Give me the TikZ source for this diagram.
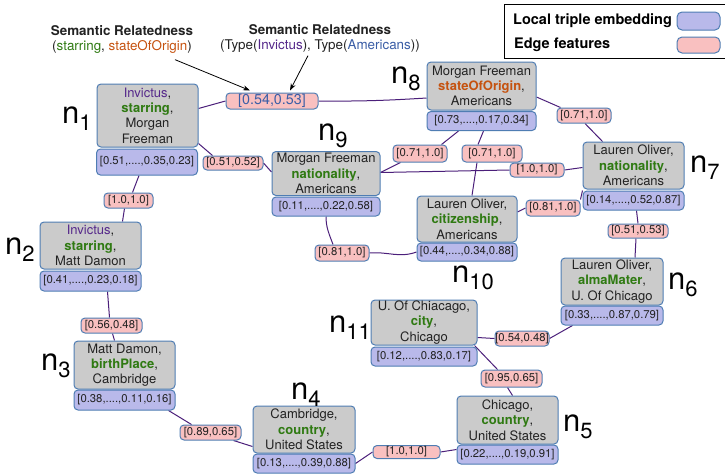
\documentclass[tikz,border=0pt]{standalone}
\usepackage{fontspec}
\setmainfont{TeX Gyre Heros}
\usetikzlibrary{arrows.meta,calc,backgrounds}

\definecolor{boxgray}{HTML}{CBCBCB}
\definecolor{boxedge}{HTML}{4F7DB3}
\definecolor{embfill}{HTML}{B9B9EA}
\definecolor{featfill}{HTML}{F9C0C0}
\definecolor{linkcol}{HTML}{4B1F7A}
\definecolor{relgreen}{HTML}{2F7A12}
\definecolor{relorange}{HTML}{C5520F}
\definecolor{entpurple}{HTML}{55288A}
\definecolor{entblue}{HTML}{3B5EA6}
\definecolor{txtdark}{HTML}{222222}

\newcommand{\rel}[1]{\textbf{\textcolor{relgreen}{#1}}}
\newcommand{\nsub}[1]{{\fontsize{31}{31}\selectfont n}\raisebox{-7pt}{\fontsize{22}{22}\selectfont #1}}

\tikzset{
  triple/.style={draw=boxedge, fill=boxgray, rounded corners=4pt, line width=1pt,
    align=center, inner sep=0pt, text=txtdark, font=\fontsize{13}{15.3}\selectfont},
  embed/.style={draw=boxedge, fill=embfill, rounded corners=4pt, line width=1pt,
    inner sep=0pt, text=txtdark, font=\fontsize{11.3}{13}\selectfont},
  feat/.style={draw=boxedge, fill=featfill, rounded corners=4pt, line width=1pt,
    inner sep=0pt, text=txtdark, font=\fontsize{11.3}{13}\selectfont},
  link/.style={draw=linkcol, line width=1pt},
  nname/.style={inner sep=0pt, anchor=base west, text=black},
  note/.style={inner sep=0pt, align=center, text=txtdark, font=\fontsize{13.4}{15}\selectfont},
  pointer/.style={draw=black, line width=0.8pt, -{Stealth[length=7pt,width=5pt]}}
}

\begin{document}
\begin{tikzpicture}[x=1pt,y=1pt]
\useasboundingbox (0,0) rectangle (725,-474);

% legend
\node[draw=black, line width=0.8pt, minimum width=221pt, minimum height=54pt, inner sep=0pt] (legend) at (614.5,-31) {};
\node[inner sep=0pt, anchor=west, font=\fontsize{14.5}{16}\selectfont\bfseries] (lgA) at (513,-21) {Local triple embedding};
\node[inner sep=0pt, anchor=west, font=\fontsize{14.5}{16}\selectfont\bfseries] (lgB) at (514,-45) {Edge features};
\node[draw=boxedge, fill=embfill, rounded corners=5pt, line width=1pt, minimum width=43pt, minimum height=18pt, inner sep=0pt] (swA) at (698.5,-21) {};
\node[draw=boxedge, fill=featfill, rounded corners=5pt, line width=1pt, minimum width=43pt, minimum height=16pt, inner sep=0pt] (swB) at (698.5,-45) {};

% triple nodes and their embeddings
\node[triple, minimum width=101pt, minimum height=63pt] (n1) at (147.5,-115.5)
  {\textcolor{entpurple}{Invictus},\\ \rel{starring},\\ Morgan\\ Freeman};
\node[embed, minimum width=101pt, minimum height=26pt] (n1v) at (147,-162) {[0.51,....,0.35,0.23]};

\node[triple, minimum width=101pt, minimum height=47pt] (n2) at (90.5,-245.5)
  {\textcolor{entpurple}{Invictus},\\ \rel{starring},\\ Matt Damon};
\node[embed, minimum width=101pt, minimum height=20pt] (n2v) at (90.5,-281) {[0.41,....,0.23,0.18]};

\node[triple, minimum width=101pt, minimum height=48pt] (n3) at (124.5,-365)
  {Matt Damon,\\ \rel{birthPlace},\\ Cambridge};
\node[embed, minimum width=101pt, minimum height=20pt] (n3v) at (124.5,-400) {[0.38,....,0.11,0.16]};

\node[triple, minimum width=102pt, minimum height=47pt] (n4) at (304,-429.5)
  {Cambridge,\\ \rel{country},\\ United States};
\node[embed, minimum width=102pt, minimum height=19pt] (n4v) at (304,-463.5) {[0.13,....,0.39,0.88]};

\node[triple, minimum width=101pt, minimum height=48pt] (n5) at (507.5,-420)
  {Chicago,\\ \rel{country},\\ United States};
\node[embed, minimum width=101pt, minimum height=19pt] (n5v) at (507.5,-454.5) {[0.22,....,0.19,0.91]};

\node[triple, minimum width=102pt, minimum height=47pt] (n6) at (612,-281.5)
  {Lauren Oliver,\\ \rel{almaMater},\\ U. Of Chicago};
\node[embed, minimum width=102pt, minimum height=19pt] (n6v) at (612,-315.5) {[0.33,....,0.87,0.79]};

\node[triple, minimum width=101pt, minimum height=47pt] (n7) at (633.5,-165.5)
  {Lauren Oliver,\\ \rel{nationality},\\ Americans};
\node[embed, minimum width=101pt, minimum height=19pt] (n7v) at (633.5,-200.5) {[0.14,....,0.52,0.87]};

\node[triple, minimum width=109pt, minimum height=48pt] (n8) at (481.5,-86)
  {Morgan Freeman\\ \textbf{\textcolor{relorange}{stateOfOrigin}},\\ Americans};
\node[embed, minimum width=109pt, minimum height=19pt] (n8v) at (481.5,-121) {[0.73,....,0.17,0.34]};

\node[triple, minimum width=108pt, minimum height=44pt] (n9) at (326,-173.5)
  {Morgan Freeman\\ \rel{nationality},\\ Americans};
\node[embed, minimum width=108pt, minimum height=19pt] (n9v) at (326,-206.5) {[0.11,....,0.22,0.58]};

\node[triple, minimum width=100pt, minimum height=46pt] (n10) at (467,-219)
  {Lauren Oliver,\\ \rel{citizenship},\\ Americans};
\node[embed, minimum width=100pt, minimum height=18pt] (n10v) at (467,-252) {[0.44,....,0.34,0.88]};

\node[triple, minimum width=106pt, minimum height=45pt] (n11) at (424,-322.5)
  {U. Of Chiacago,\\ \rel{city},\\ Chicago};
\node[embed, minimum width=106pt, minimum height=19pt] (n11v) at (424,-356.5) {[0.12,....,0.83,0.17]};

% node names
\node[nname] (t1) at (62,-123) {\nsub{1}};
\node[nname] (t2) at (5,-254) {\nsub{2}};
\node[nname] (t3) at (41,-370) {\nsub{3}};
\node[nname] (t4) at (291,-399) {\nsub{4}};
\node[nname] (t5) at (563,-431) {\nsub{5}};
\node[nname] (t6) at (668,-289) {\nsub{6}};
\node[nname] (t7) at (690,-172) {\nsub{7}};
\node[nname] (t8) at (391,-83) {\nsub{8}};
\node[nname] (t9) at (318,-140) {\nsub{9}};
\node[nname] (t10) at (452,-282) {\nsub{10}};
\node[nname] (t11) at (329,-332) {\nsub{11}};

% edge features
\node[feat, minimum width=92pt, minimum height=16pt, text=entblue, font=\fontsize{14.3}{16}\selectfont] (e18) at (272,-101) {[0.54,0.53]};
\node[feat, minimum width=60pt, minimum height=14pt] (e19) at (233,-163) {[0.51,0.52]};
\node[feat, minimum width=49pt, minimum height=15pt] (e12) at (128.5,-200.5) {[1.0,1.0]};
\node[feat, minimum width=61pt, minimum height=15pt] (e23) at (111.5,-325.5) {[0.56,0.48]};
\node[feat, minimum width=61pt, minimum height=15pt] (e34) at (210.5,-432.5) {[0.89,0.65]};
\node[feat, minimum width=67pt, minimum height=13pt] (e45) at (406.5,-452) {[1.0,1.0]};
\node[feat, minimum width=61pt, minimum height=17pt] (e115) at (511.5,-378.5) {[0.95,0.65]};
\node[feat, minimum width=54pt, minimum height=15pt] (e116) at (522,-338.5) {[0.54,0.48]};
\node[feat, minimum width=60pt, minimum height=14pt] (e76) at (638,-231) {[0.51,0.53]};
\node[feat, minimum width=54pt, minimum height=16pt] (e107) at (553,-208) {[0.81,1.0]};
\node[feat, minimum width=54pt, minimum height=14pt] (e97) at (537,-170) {[1.0,1.0]};
\node[feat, minimum width=54pt, minimum height=17pt] (e89) at (420,-153.5) {[0.71,1.0]};
\node[feat, minimum width=60pt, minimum height=17pt] (e810) at (492,-153.5) {[0.71,1.0]};
\node[feat, minimum width=54pt, minimum height=15pt] (e87) at (584,-115.5) {[0.71,1.0]};
\node[feat, minimum width=54pt, minimum height=16pt] (e910) at (342,-253) {[0.81,1.0]};

% connectors, kept behind the boxes
\begin{scope}[on background layer]
\draw[link] ([yshift=7pt]n1.east) -- (e18.west);
\draw[link] (e18.east) to[bend right=2] ([yshift=-12pt]n8.west);
\draw[link] ([yshift=-28pt]n1.east) -- ([xshift=10pt]e19.north west);
\draw[link] (e19.east) -- ([yshift=1.5pt]n9.west);
\draw[link] ([xshift=-8pt]n1v.south) -- ([xshift=4pt]e12.north);
\draw[link] ([xshift=-4pt]e12.south) -- ([xshift=32pt]n2.north);
\draw[link] ([xshift=17pt]n2v.south) -- ([xshift=-2pt]e23.north);
\draw[link] ([xshift=1pt]e23.south) -- ([xshift=-10pt]n3.north);
\draw[link] ([xshift=-7pt]n3v.south east) -- ([xshift=12pt]e34.north west);
\draw[link] ([xshift=-8pt]e34.south east) -- ([yshift=-17pt]n4.west);
\draw[link] (n4v.east) -- (e45.west);
\draw[link] (e45.east) -- ([yshift=5pt]n5v.west);
\draw[link] ([xshift=-3pt]n11.south east) -- ([xshift=-14pt]e115.north);
\draw[link] ([xshift=-4pt]e115.south) -- ([xshift=5pt]n5.north);
\draw[link] ([yshift=-15pt]n11.east) -- (e116.west);
\draw[link] (e116.east) -- ([xshift=12pt]n6v.south west);
\draw[link] ([xshift=3pt]n7v.south) -- (e76.north);
\draw[link] ([xshift=-2pt]e76.south) -- ([xshift=23pt]n6.north);
\draw[link] ([yshift=7pt]n10.east) -- (e107.west);
\draw[link] (e107.north east) -- (n7v.north west);
\draw[link] ([yshift=1pt]n9.east) -- (e97.west);
\draw[link] (e97.east) -- ([yshift=-2pt]n7.west);
\draw[link] ([yshift=1pt]n9.east) -- ([xshift=8pt]e89.south west);
\draw[link] ([xshift=-6pt]e89.north east) -- ([xshift=-23pt]n8v.south);
\draw[link] ([xshift=2pt]n8v.south) -- ([xshift=-14pt]e810.north);
\draw[link] ([xshift=-15pt]e810.south) -- ([xshift=5pt]n10.north);
\draw[link] ([yshift=-11pt]n8.east) -- ([xshift=4pt]e87.north west);
\draw[link] ([xshift=1pt]e87.south) -- ([xshift=-31pt]n7.north);
\draw[link] (n9v.south) to[out=-90,in=110] ([xshift=-9pt]e910.north);
\draw[link] (e910.east) to[out=5,in=200] (n10v.west);
\end{scope}

% annotations
\node[note] (ann1) at (122,-39.5)
  {\textbf{Semantic Relatedness}\\ (\textcolor{relgreen}{starring}, \textcolor{relorange}{stateOfOrigin})};
\node[note] (ann2) at (320,-38.5)
  {\textbf{Semantic Relatedness}\\ (Type(\textcolor{entpurple}{Invictus}), Type(\textcolor{entblue}{Americans}))};
\draw[pointer] ([xshift=53pt,yshift=-6pt]ann1.south) -- ([xshift=-22pt,yshift=2pt]e18.north);
\draw[pointer] ([xshift=-12pt,yshift=-3pt]ann2.south) -- ([xshift=18pt,yshift=2pt]e18.north);
\end{tikzpicture}
\end{document}
